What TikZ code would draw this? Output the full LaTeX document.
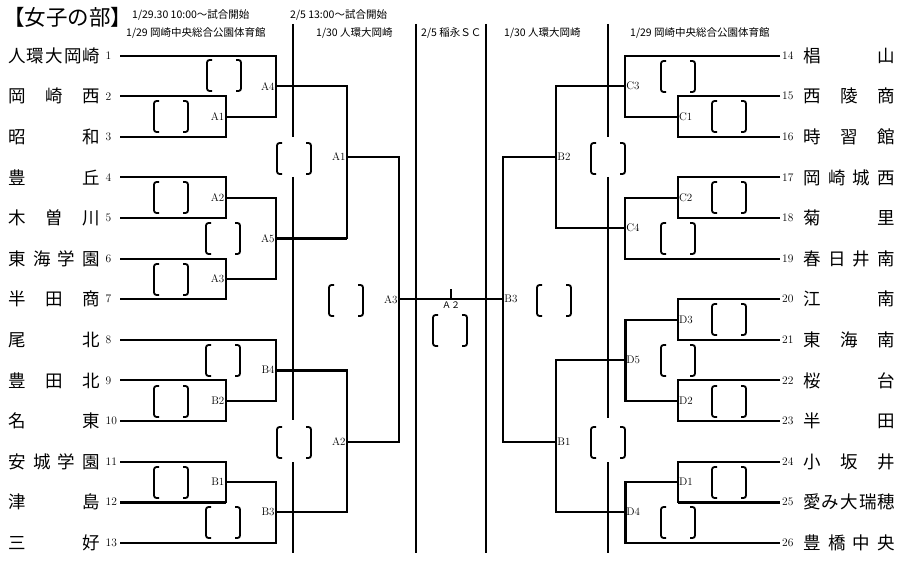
\documentclass[tikz,border=0pt]{standalone}
\usepackage{fontspec}
\newfontfamily\jp{Noto Sans CJK JP}
\usetikzlibrary{calc}
\newcommand\nm[1]{\makebox[92pt]{#1}}

\begin{document}
\begin{tikzpicture}[x=1pt,y=-1pt,
	ln/.style={line width=2pt},
	lnb/.style={line width=3pt},
	team/.style={font=\jp\fontsize{17.5}{18}\selectfont, inner sep=0pt},
	num/.style={font=\fontsize{11.5}{12}\selectfont, inner sep=0pt},
	rnd/.style={font=\fontsize{11}{12}\selectfont, inner sep=1.2pt},
	hdr/.style={font=\jp\fontsize{10.5}{11}\selectfont, inner sep=0pt, anchor=west},
	brk/.pic={\draw[line width=1.8pt, rounded corners=2.5pt] (5,0) -- (0,0) -- (0,31) -- (5,31) (29,0) -- (34,0) -- (34,31) -- (29,31);}]
	\useasboundingbox (0,0) rectangle (900,564);

	\node[font=\jp\fontsize{21.5}{22}\selectfont, inner sep=0pt, anchor=west](ttl) at (3,17){【女子の部】};
	\node[hdr](h1) at (132,15){1/29.30 10:00～試合開始};
	\node[hdr](h2) at (290,15){2/5 13:00～試合開始};
	\node[hdr](g1) at (126,33){1/29 岡崎中央総合公園体育館};
	\node[hdr](g2) at (316,33){1/30 人環大岡崎};
	\node[hdr](g3) at (421,33){2/5 稲永ＳＣ};
	\node[hdr](g4) at (504,33){1/30 人環大岡崎};
	\node[hdr](g5) at (630,33){1/29 岡崎中央総合公園体育館};

	\draw[ln] (293.3,24) -- (293.3,137) (293.3,177) -- (293.3,420) (293.3,462) -- (293.3,553);
	\draw[ln] (415.7,24) -- (415.7,553);
	\draw[ln] (486,24) -- (486,553);
	\draw[ln] (608.3,24) -- (608.3,137) (608.3,177) -- (608.3,418) (608.3,462) -- (608.3,553);

	\foreach \k/\t in {1/{人\hfill 環\hfill 大\hfill 岡\hfill 崎}, 2/{岡\hfill 崎\hfill 西}, 3/{昭\hfill 和},
		4/{豊\hfill 丘}, 5/{木\hfill 曽\hfill 川}, 6/{東\hfill 海\hfill 学\hfill 園}, 7/{半\hfill 田\hfill 商},
		8/{尾\hfill 北}, 9/{豊\hfill 田\hfill 北}, 10/{名\hfill 東}, 11/{安\hfill 城\hfill 学\hfill 園},
		12/{津\hfill 島}, 13/{三\hfill 好}}{
		\coordinate (L\k) at (120,{55.7+(\k-1)*40.58});
		\node[team, anchor=west](nL\k) at (8,{55.7+(\k-1)*40.58}){\nm{\t}};
		\node[num, anchor=west](kL\k) at (105.5,{55.7+(\k-1)*40.58}){\k};
	}
	\foreach \k/\t in {14/{椙\hfill 山}, 15/{西\hfill 陵\hfill 商}, 16/{時\hfill 習\hfill 館},
		17/{岡\hfill 崎\hfill 城\hfill 西}, 18/{菊\hfill 里}, 19/{春\hfill 日\hfill 井\hfill 南},
		20/{江\hfill 南}, 21/{東\hfill 海\hfill 南}, 22/{桜\hfill 台}, 23/{半\hfill 田},
		24/{小\hfill 坂\hfill 井}, 25/{愛\hfill み\hfill 大\hfill 瑞\hfill 穂}, 26/{豊\hfill 橋\hfill 中\hfill 央}}{
		\coordinate (R\k) at (780,{55.7+(\k-14)*40.58});
		\node[team, anchor=west](nR\k) at (803,{55.7+(\k-14)*40.58}){\nm{\t}};
		\node[num, anchor=west](kR\k) at (782,{55.7+(\k-14)*40.58}){\k};
	}

	% left half
	\coordinate (qA1) at (225.7,116.6);
	\coordinate (qA4) at (276,86.1);
	\coordinate (qA2) at (225.7,197.7);
	\coordinate (qA3) at (225.7,278.9);
	\coordinate (qA5) at (276,238.3);
	\coordinate (qB2) at (225.7,400.6);
	\coordinate (qB4) at (276,370.2);
	\coordinate (qB1) at (225.7,481.8);
	\coordinate (qB3) at (276,512.2);
	\coordinate (sA1) at (347,157);
	\coordinate (sA2) at (347,442);
	\coordinate (fA3) at (399,299.2);

	\draw[ln] (L1) -| (qA4) |- (qA1);
	\draw[ln] (L2) -| (qA1) |- (L3);
	\draw[ln] (L4) -| (qA2) |- (L5);
	\draw[ln] (L6) -| (qA3) |- (L7);
	\draw[ln] (qA2) -| (qA5) |- (qA3);
	\draw[ln] (L8) -| (qB4) |- (qB2);
	\draw[ln] (L9) -| (qB2) |- (L10);
	\draw[ln] (L11) -| (qB1) |- (L12);
	\draw[lnb] (L12) -- (qB1|-L12);
	\draw[ln] (qB1) -| (qB3) |- (L13);
	\draw[ln] (qA4) -| (sA1) |- (qA5);
	\draw[lnb] (qA5) -- (sA1|-qA5);
	\draw[ln] (qB4) -| (sA2) |- (qB3);
	\draw[lnb] (qB4) -- (sA2|-qB4);
	\draw[ln] (sA1) -| (fA3) |- (sA2);

	% right half
	\coordinate (qC1) at (677.7,116.6);
	\coordinate (qC3) at (625,86.1);
	\coordinate (qC2) at (677.7,197.7);
	\coordinate (qC4) at (625,228.1);
	\coordinate (qD3) at (677.7,319.5);
	\coordinate (qD2) at (677.7,400.6);
	\coordinate (qD5) at (625,360);
	\coordinate (qD1) at (677.7,481.8);
	\coordinate (qD4) at (625,512.2);
	\coordinate (sB2) at (556,157);
	\coordinate (sB1) at (556,442);
	\coordinate (fB3) at (503,299.2);

	\draw[ln] (R14) -| (qC3) |- (qC1);
	\draw[ln] (R15) -| (qC1) |- (R16);
	\draw[ln] (R17) -| (qC2) |- (R18);
	\draw[ln] (qC2) -| (qC4) |- (R19);
	\draw[ln] (R20) -| (qD3) |- (R21);
	\draw[ln] (R22) -| (qD2) |- (R23);
	\draw[ln] (qD3) -| (qD5) |- (qD2);
	\draw[lnb] (qD5|-qD3) -- (qD5|-qD2);
	\draw[ln] (R24) -| (qD1) |- (R25);
	\draw[lnb] (R25) -- (qD1|-R25);
	\draw[ln] (qD1) -| (qD4) |- (R26);
	\draw[lnb] (qD4|-qD1) -- (qD4|-R26);
	\draw[ln] (qC3) -| (sB2) |- (qC4);
	\draw[ln] (qD5) -| (sB1) |- (qD4);
	\draw[ln] (sB2) -| (fB3) |- (sB1);

	% final
	\draw[ln] (fA3) -- (fB3);
	\coordinate (fin) at ($(fA3)!.5!(fB3)$);
	\draw[ln] (fin) -- ++(0,-10);
	\node[font=\jp\fontsize{9}{9}\selectfont, inner sep=0pt](tfin) at (451,305){Ａ２};

	\foreach \c/\t in {qA1/A1, qA4/A4, qA2/A2, qA3/A3, qA5/A5, qB2/B2, qB4/B4, qB1/B1, qB3/B3, sA1/A1, sA2/A2, fA3/A3}
		\node[rnd, anchor=east](t\c) at (\c){\t};
	\foreach \c/\t in {qC1/C1, qC3/C3, qC2/C2, qC4/C4, qD3/D3, qD2/D2, qD5/D5, qD1/D1, qD4/D4, sB2/B2, sB1/B1, fB3/B3}
		\node[rnd, anchor=west](t\c) at (\c){\t};

	\foreach \bx/\by in {207/60, 154/101, 154/182, 206/223, 154/264, 206/345, 154/386, 154/467, 206/507,
		277/143, 277/427, 329/285, 433/315, 537/285, 591/143, 591/427,
		661/61, 712/101, 712/182, 661/223, 712/304, 661/345, 712/386, 712/467, 661/507}
		\pic at (\bx,\by) {brk};
\end{tikzpicture}
\end{document}
